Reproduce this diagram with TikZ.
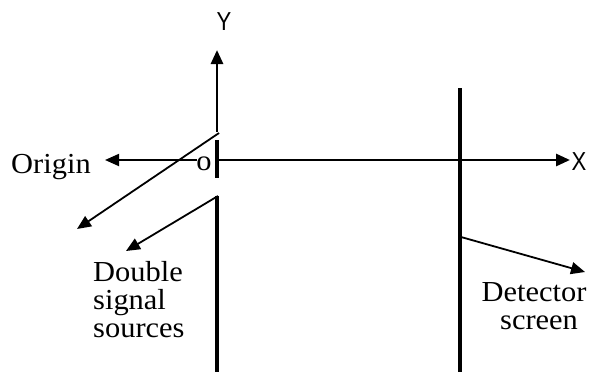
\documentclass[tikz,border=0pt]{standalone}
\usepackage{fontspec}
\setmainfont{Liberation Serif}
\newfontfamily\axisfont{Liberation Sans}
\usetikzlibrary{arrows.meta}
\begin{document}
\begin{tikzpicture}[x=1pt,y=-1pt,
  tip/.style={-{Triangle[length=14pt,width=12pt]}},
  wall/.style={line width=3.6pt},
  axis/.style={line width=2.8pt},
  ray/.style={line width=1.8pt},
  lbl/.style={font=\fontsize{29}{29}\selectfont, xscale=1.05, transform shape, inner sep=0pt},
  axlbl/.style={font=\axisfont\fontsize{26}{26}\selectfont, xscale=0.85, transform shape, inner sep=0pt}]
\useasboundingbox (0,0) rectangle (592,372);
% coordinates
\coordinate (ytop) at (217,50);
\coordinate (ybot) at (217,132);
\coordinate (s1) at (217,140);
\coordinate (s2) at (217,178);
\coordinate (w1) at (217,196);
\coordinate (w2) at (217,372);
\coordinate (xo) at (217,160);
\coordinate (xend) at (570,160);
\coordinate (ostart) at (197,160);
\coordinate (oend) at (105,160);
\coordinate (d1a) at (219,133);
\coordinate (d1b) at (77,229);
\coordinate (d2a) at (218,196);
\coordinate (d2b) at (126,251);
\coordinate (sc1) at (460,88);
\coordinate (sc2) at (460,372);
\coordinate (da) at (461,237);
\coordinate (db) at (585,272);
% labels
\node[axlbl] (Y) at (224,22) {Y};
\node[axlbl] (X) at (579,161.5) {X};
\node[lbl, anchor=base] (origin) at (51,173) {Origin};
\node[lbl, anchor=base] (o) at (204,170) {o};
\node[lbl, anchor=north west, align=left, font=\fontsize{29}{28}\selectfont] (dss) at (93,261) {Double\\signal\\sources};
\node[lbl, anchor=north, align=center, font=\fontsize{29}{28}\selectfont] (det) at (534,282) {Detector\\\,\,screen};
% barrier and axes
\draw[axis, tip] (ybot) -- (ytop);
\draw[wall] (s1) -- (s2);
\draw[wall] (w1) -- (w2);
\draw[axis, tip] (xo) -- (xend);
\draw[ray, tip] (ostart) -- (oend);
\draw[ray, tip] (d1a) -- (d1b);
\draw[ray, tip] (d2a) -- (d2b);
\draw[wall] (sc1) -- (sc2);
\draw[ray, tip] (da) -- (db);
\end{tikzpicture}
\end{document}
